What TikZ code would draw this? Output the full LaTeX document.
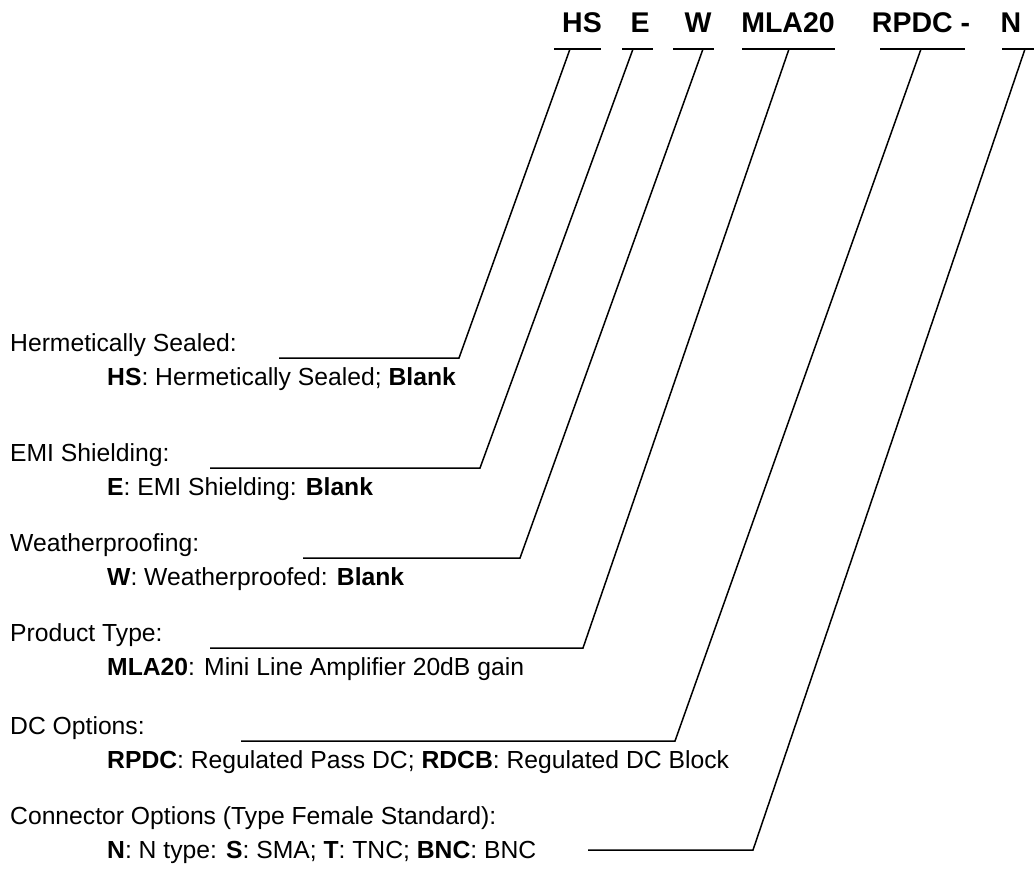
\documentclass[tikz,border=0pt]{standalone}
\usepackage{fontspec}
\setmainfont{Liberation Sans}
\begin{document}
\begin{tikzpicture}[x=1pt,y=-1pt,
  hdr/.style={font=\fontsize{28.5}{30}\selectfont\bfseries, inner sep=0pt, anchor=base},
  lbl/.style={font=\fontsize{24.7}{28}\selectfont, inner sep=0pt, anchor=base west},
  ln/.style={line width=1.5pt, line cap=butt, line join=miter}]
\useasboundingbox (0,0) rectangle (1034,871);
% header codes
\node[hdr] (hHS) at (582,32) {HS};
\node[hdr] (hE) at (640,32) {E};
\node[hdr] (hW) at (698,32) {W};
\node[hdr] (hMLA) at (788,32) {MLA20};
\node[hdr] (hRPDC) at (921,32) {RPDC -};
\node[hdr] (hN) at (1011,32) {N};
% bars
\coordinate (bHSl) at (554,49); \coordinate (bHSr) at (601,49);
\coordinate (bEl) at (622,49);  \coordinate (bEr) at (653,49);
\coordinate (bWl) at (673,49);  \coordinate (bWr) at (714,49);
\coordinate (bMl) at (742,49);  \coordinate (bMr) at (835,49);
\coordinate (bRl) at (880,49);  \coordinate (bRr) at (965,49);
\coordinate (bNl) at (1002,49); \coordinate (bNr) at (1034,49);
\foreach \a/\b in {bHSl/bHSr,bEl/bEr,bWl/bWr,bMl/bMr,bRl/bRr,bNl/bNr}
  \draw[ln] (\a) -- (\b);
% slant tops
\coordinate (tHS) at (570,49);
\coordinate (tE) at (633,49);
\coordinate (tW) at (703,49);
\coordinate (tM) at (789,49);
\coordinate (tR) at (921,49);
\coordinate (tN) at (1025,49);
% elbows and line starts
\coordinate (eHS) at (459,358); \coordinate (sHS) at (279,358);
\coordinate (eE) at (480,468);  \coordinate (sE) at (210,468);
\coordinate (eW) at (520,558);  \coordinate (sW) at (303,558);
\coordinate (eM) at (583,648);  \coordinate (sM) at (210,648);
\coordinate (eR) at (675,741);  \coordinate (sR) at (241,741);
\coordinate (eN) at (753,850);  \coordinate (sN) at (588,850);
\draw[ln] (tHS) -- (eHS) -- (sHS);
\draw[ln] (tE) -- (eE) -- (sE);
\draw[ln] (tW) -- (eW) -- (sW);
\draw[ln] (tM) -- (eM) -- (sM);
\draw[ln] (tR) -- (eR) -- (sR);
\draw[ln] (tN) -- (eN) -- (sN);
% labels
\node[lbl] (gHS) at (10,351) {Hermetically Sealed:};
\node[lbl] (dHS) at (107,385) {\textbf{HS}: Hermetically Sealed; \textbf{Blank}};
\node[lbl] (gE) at (10,461) {EMI Shielding:};
\node[lbl] (dE) at (107,495) {\textbf{E}: EMI Shielding: \textbf{Blank}};
\node[lbl] (gW) at (10,551) {Weatherproofing:};
\node[lbl] (dW) at (107,585) {\textbf{W}: Weatherproofed: \textbf{Blank}};
\node[lbl] (gM) at (10,641) {Product Type:};
\node[lbl] (dM) at (107,675) {\textbf{MLA20}: Mini Line Amplifier 20dB gain};
\node[lbl] (gR) at (10,734) {DC Options:};
\node[lbl] (dR) at (107,768) {\textbf{RPDC}: Regulated Pass DC; \textbf{RDCB}: Regulated DC Block};
\node[lbl] (gN) at (10,824) {Connector Options (Type Female Standard):};
\node[lbl] (dN) at (107,858) {\textbf{N}: N type: \textbf{S}: SMA; \textbf{T}: TNC; \textbf{BNC}: BNC};
\end{tikzpicture}
\end{document}
